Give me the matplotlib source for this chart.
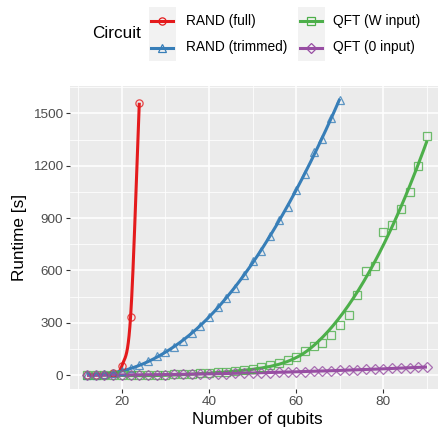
import numpy as np
import matplotlib
matplotlib.use("Agg")
import matplotlib.pyplot as plt
from matplotlib.patches import Rectangle
from matplotlib.lines import Line2D

plt.rcParams['font.family'] = ['Liberation Sans', 'DejaVu Sans']

# ---------------- data ----------------
series_names = ["RAND (full)", "RAND (trimmed)", "QFT (W input)", "QFT (0 input)"]
colors = ["#E41A1C", "#377EB8", "#4DAF4A", "#984EA3"]
markers = ["o", "^", "s", "D"]

rand_full_q = [12, 14, 16, 18, 20, 22, 24]
rand_full_t = [0.1, 0.5, 2, 13, 53, 335, 1561]

rand_trim_q = list(range(12, 71, 2))
rand_trim_t = [2, 4, 8, 14, 23, 40, 60, 80, 108, 132, 163, 197, 240, 282, 335,
               392, 440, 502, 573, 654, 713, 796, 888, 963, 1059, 1155, 1277,
               1356, 1473, 1578]

qft_w_q = list(range(12, 91, 2))
qft_w_t = [0.2, 0.3, 0.5, 1, 1, 1, 2, 2, 3, 4, 5, 7, 9, 11, 14, 17, 21, 26, 32,
           36, 48, 58, 71, 90, 105, 136, 167, 182, 230, 288, 347, 457, 598, 628,
           818, 862, 953, 1049, 1197, 1368]

qft_0_q = list(range(12, 91, 2))
qft_0_t = [0.5, 0.7, 0.9, 1.2, 1.5, 1.9, 2.3, 2.8, 3.3, 3.8, 4.5, 5.2, 6.0, 6.8,
           7.7, 8.6, 9.6, 10.6, 11.8, 13.0, 14.2, 15.5, 16.8, 18.2, 19.6, 21.1,
           22.6, 24.2, 25.8, 27.5, 29.2, 31.0, 32.8, 34.7, 36.6, 38.6, 40.6,
           42.6, 44.8, 47.0]

xs_all = [rand_full_q, rand_trim_q, qft_w_q, qft_0_q]
ys_all = [rand_full_t, rand_trim_t, qft_w_t, qft_0_t]
smooth_kind = ["spline", "loess", "loess", "loess"]

x_ticks = [20, 40, 60, 80]
y_ticks = [0, 300, 600, 900, 1200, 1500]


def loess(x, y, xs, span=0.75):
    x = np.asarray(x, float)
    y = np.asarray(y, float)
    n = len(x)
    q = int(np.floor(n * span))
    out = []
    for x0 in xs:
        d = np.abs(x - x0)
        idx = np.argsort(d, kind="stable")[:q]
        h = d[idx].max() * 1.0001
        w = (1 - (d[idx] / h) ** 3) ** 3
        w = np.clip(w, 1e-6, None)
        c = np.polyfit(x[idx], y[idx], 2, w=np.sqrt(w))
        out.append(np.polyval(c, x0))
    return np.array(out)


def hermite_smooth(x, y, xs):
    # smooth curve through the points (Catmull-Rom style tangents)
    x = np.asarray(x, float)
    y = np.asarray(y, float)
    m = np.gradient(y, x)
    out = []
    for x0 in xs:
        i = min(np.searchsorted(x, x0, side="right") - 1, len(x) - 2)
        i = max(i, 0)
        h = x[i + 1] - x[i]
        t = (x0 - x[i]) / h
        h00 = 2 * t**3 - 3 * t**2 + 1
        h10 = t**3 - 2 * t**2 + t
        h01 = -2 * t**3 + 3 * t**2
        h11 = t**3 - t**2
        out.append(h00 * y[i] + h10 * h * m[i] + h01 * y[i + 1] + h11 * h * m[i + 1])
    return np.array(out)


W, H = 439, 429
fig = plt.figure(figsize=(W / 100, H / 100), dpi=100)

px_l, px_r, px_t, px_b = 70, 444, 86, 389
ax = fig.add_axes([px_l / W, 1 - px_b / H, (px_r - px_l) / W, (px_b - px_t) / H])
ax.set_facecolor("#EBEBEB")
for s in ax.spines.values():
    s.set_visible(False)

ax.set_xlim(8.1, 93.9)
ax.set_ylim(-79, 1657)
ax.set_xticks(x_ticks)
ax.set_yticks(y_ticks)
ax.set_xticks([10, 30, 50, 70, 90], minor=True)
ax.set_yticks([150, 450, 750, 1050, 1350, 1650], minor=True)
ax.grid(which="major", color="white", lw=1.1)
ax.grid(which="minor", color="white", lw=0.55)
ax.set_axisbelow(True)
ax.tick_params(which="major", length=3, width=0.8, color="#333333",
               labelsize=9.7, labelcolor="#4D4D4D", pad=2)
ax.tick_params(which="minor", length=0)

for xq, yt, c, m, kind in zip(xs_all, ys_all, colors, markers, smooth_kind):
    xg = np.linspace(min(xq), max(xq), 200)
    if kind == "spline":
        yg = hermite_smooth(xq, yt, xg)
    else:
        yg = loess(xq, yt, xg)
    ax.plot(xg, yg, color=c, lw=2.2, zorder=3, solid_capstyle="butt")
    ms = 6.0 if m == "^" else 5.2
    ax.plot(xq, yt, ls="none", marker=m, ms=ms, mfc="none", mec=c, mew=0.9,
            alpha=0.8, zorder=4)

ax.set_xlabel("Number of qubits", fontsize=12.3, color="black", labelpad=3)
ax.set_ylabel("Runtime [s]", fontsize=12.3, color="black", labelpad=4)

# ---------------- legend (drawn in pixel coords) ----------------
lax = fig.add_axes([0, 0, 1, 1])
lax.set_xlim(0, W)
lax.set_ylim(H, 0)
lax.axis("off")
lax.text(92.5, 34, "Circuit", fontsize=12.3, va="center", ha="left")
key_x = [149, 298]
text_x = [186, 333]
row_y = [7, 34]
for i, (name, c, m) in enumerate(zip(series_names, colors, markers)):
    col, row = i // 2, i % 2
    kx, ky = key_x[col], row_y[row]
    lax.add_patch(Rectangle((kx, ky), 27, 27, facecolor="#F2F2F2", edgecolor="none"))
    cy = ky + 13.5
    lax.add_line(Line2D([kx + 2.5, kx + 24.5], [cy, cy], color=c, lw=2.2))
    ms = 6.0 if m == "^" else 5.2
    lax.add_line(Line2D([kx + 13.5], [cy], marker=m, ms=ms, mfc="none", mec=c,
                        mew=0.9, ls="none"))
    lax.text(text_x[col], cy, name, fontsize=9.9, va="center", ha="left",
             color="black")

fig.savefig("out.png", dpi=100)
